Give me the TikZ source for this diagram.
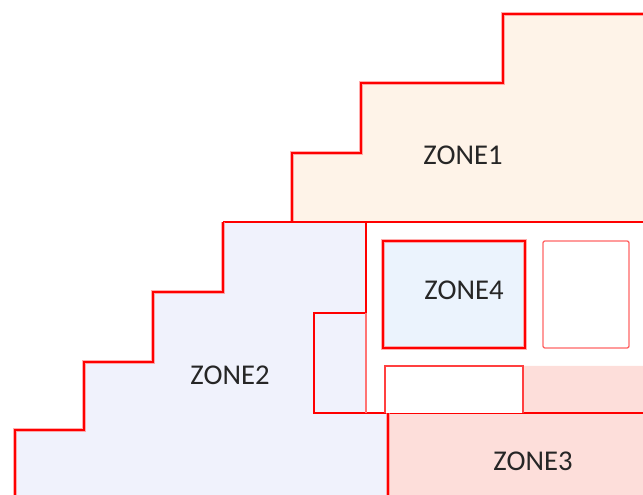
\documentclass[tikz,border=0pt]{standalone}
\usepackage{fontspec}
\setmainfont{Carlito}
\definecolor{zoneA}{HTML}{FEF3E8}
\definecolor{zoneB}{HTML}{F0F2FC}
\definecolor{zoneC}{HTML}{FDDEDA}
\definecolor{zoneD}{HTML}{EBF3FD}
\definecolor{halo}{HTML}{FF8A8A}
\begin{document}
\begin{tikzpicture}[x=0.75pt,y=-0.75pt,
  edge/.style={draw=red,line width=1.1pt,line join=miter},
  haloline/.style={draw=halo,line width=2.6pt,line join=miter,opacity=0.7},
  paleline/.style={draw=red!55,line width=0.9pt},
  lbl/.style={font=\fontsize{21.5}{26}\selectfont,text=black!85,inner sep=0pt}]
\useasboundingbox (0,0) rectangle (643,495);
% fills
\fill[zoneA] (292,222)--(292,153)--(361,153)--(361,83)--(503,83)--(503,14)--(643,14)--(643,222)--cycle;
\fill[zoneB] (15,495)--(15,430)--(84,430)--(84,362)--(153,362)--(153,292)--(223,292)--(223,222)--(366,222)--(366,413)--(388,413)--(388,495)--cycle;
\fill[zoneC] (388,495)--(388,413)--(523,413)--(523,366)--(643,366)--(643,495)--cycle;
% zone1 outline
\draw[haloline] (292,222)--(292,153)--(361,153)--(361,83)--(503,83)--(503,14)--(643,14);
\draw[edge] (292,222)--(292,153)--(361,153)--(361,83)--(503,83)--(503,14)--(643,14);
\draw[edge] (223,222)--(643,222);
% zone2 outline
\draw[haloline] (15,495)--(15,430)--(84,430)--(84,362)--(153,362)--(153,292)--(223,292)--(223,222);
\draw[edge] (15,495)--(15,430)--(84,430)--(84,362)--(153,362)--(153,292)--(223,292)--(223,222);
\draw[edge] (366,222)--(366,313)--(314,313)--(314,413)--(643,413);
\draw[paleline] (366,313)--(366,413);
% zone3 left edge
\draw[haloline] (388,413)--(388,495);
\draw[edge] (388,413)--(388,495);
% zone4 box
\fill[zoneD] (383,241) rectangle (525,348);
\draw[haloline] (383,241) rectangle (525,348);
\draw[edge] (383,241) rectangle (525,348);
% other boxes
\fill[white] (543,241) rectangle (629,348);
\draw[draw=red!60,line width=1pt,rounded corners=1.5pt] (543,241) rectangle (629,348);
\fill[white] (385,366) rectangle (523,413);
\draw[draw=red!75,line width=0.9pt] (385,413)--(385,366)--(523,366)--(523,413);
% labels
\node[lbl] (z1) at (463,155) {ZONE1};
\node[lbl] (z2) at (230,375) {ZONE2};
\node[lbl] (z4) at (464,290) {ZONE4};
\node[lbl] (z3) at (533,461) {ZONE3};
\end{tikzpicture}
\end{document}
